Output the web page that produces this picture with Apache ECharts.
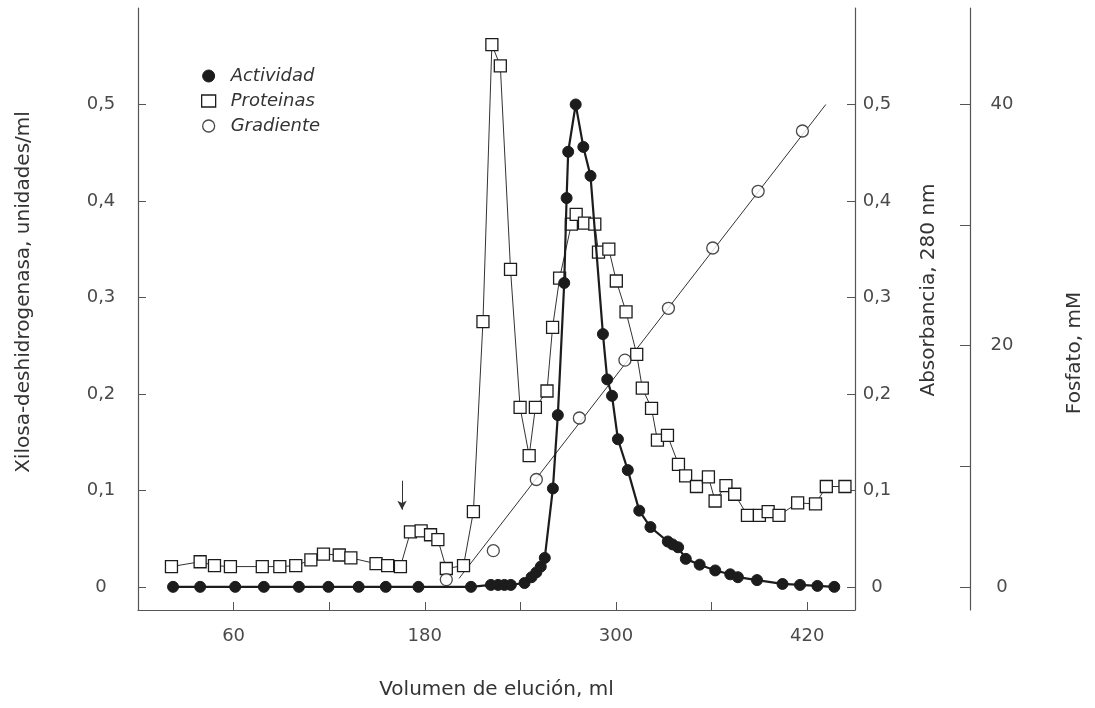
<!DOCTYPE html>
<html>
<head>
<meta charset="utf-8">
<script src="https://cdn.jsdelivr.net/npm/echarts@6/dist/echarts.min.js"></script>
<style>
  html, body { margin: 0; padding: 0; background: #ffffff; }
  #chart { width: 1095px; height: 708px; }
</style>
</head>
<body>
<div id="chart"></div>
<script>
// ---- Data ----
const actividadVol = [22,39,61,79,101,119.5,138.5,155.5,176,209,221.5,226,230,234,242.6,247,250,252.8,255.3,260.4,263.5,267.5,269,270,274.7,279.5,284,291.8,294.5,297.5,301.2,307.4,314.6,321.6,332.5,335.5,339,343.8,352.5,362.3,371.7,376.5,388.5,404.5,415.5,426.4,437];
const actividadVal = [0,0,0,0,0,0,0,0,0,0,0.002,0.002,0.002,0.002,0.004,0.01,0.015,0.021,0.03,0.102,0.178,0.315,0.403,0.451,0.5,0.456,0.426,0.262,0.215,0.198,0.153,0.121,0.079,0.062,0.047,0.044,0.041,0.029,0.023,0.017,0.013,0.01,0.007,0.003,0.002,0.001,0];

const proteinasVol = [21,39,48,58,78,89,99,108.5,116.4,126.3,133.6,149.4,156.7,164.7,171,177.7,183.6,188.2,193.5,204.3,210.5,216.5,222.1,227.4,233.8,239.8,245.5,249.4,256.7,260.2,264.6,272,275,280.2,286.7,289,295.5,300.2,306.3,313,316.5,322.3,326,332.3,339.2,343.7,350.5,358,362.2,369,374.5,382.5,390,395.5,402.3,414,425.2,432,443.7];
const proteinasVal = [0.021,0.026,0.022,0.021,0.021,0.021,0.022,0.028,0.034,0.033,0.030,0.024,0.022,0.021,0.057,0.058,0.054,0.049,0.019,0.022,0.078,0.275,0.562,0.540,0.329,0.186,0.136,0.186,0.203,0.269,0.320,0.376,0.386,0.377,0.376,0.347,0.350,0.317,0.285,0.241,0.206,0.185,0.152,0.157,0.127,0.115,0.104,0.114,0.089,0.105,0.096,0.074,0.074,0.078,0.074,0.087,0.086,0.104,0.104];

const gradienteVol = [193.5,223,250,277,305.6,332.9,360.7,389.2,417];
const gradienteMM  = [0.6,3.0,8.9,14.0,18.8,23.1,28.1,32.8,37.8];

const gradienteLineVol = [201.5,431.7];
const gradienteLineMM  = [0.7,40];

const arrowVol = 165.7;
const arrowFrom = 0.11;
const arrowTo = 0.08;

const xTickLabels = [60,180,300,420];

// ---- Helpers ----
const zip = (a, b) => a.map((v, i) => [v, b[i]]);
const commaFmt = v => {
  if (v < -1e-9 || v > 0.55) return '';
  if (Math.abs(v) < 1e-9) return '0';
  return v.toFixed(1).replace('.', ',');
};

const FONT = 'DejaVu Sans';
const ink = '#1c1c1c';
const axisCol = '#555';
const labelStyle = { color: '#4a4a4a', fontFamily: FONT, fontSize: 18 };
const nameStyle = { color: '#333', fontFamily: FONT, fontSize: 20 };

const chart = echarts.init(document.getElementById('chart'), null, { renderer: 'canvas' });

const option = {
  backgroundColor: '#ffffff',
  animation: false,
  grid: { left: 138, right: 240, top: 8, bottom: 98, containLabel: false },
  legend: {
    orient: 'vertical',
    left: 196,
    top: 62,
    itemWidth: 14,
    itemHeight: 12,
    itemGap: 7,
    textStyle: { fontFamily: FONT, fontStyle: 'italic', fontSize: 18, color: '#333', padding: [0, 0, 0, 10] },
    data: [
      { name: 'Actividad', icon: 'circle', itemStyle: { color: ink, borderColor: ink, borderWidth: 1 } },
      { name: 'Proteinas', icon: 'rect', itemStyle: { color: '#fff', borderColor: ink, borderWidth: 1.3 } },
      { name: 'Gradiente', icon: 'circle', itemStyle: { color: '#fff', borderColor: ink, borderWidth: 1.3 } }
    ]
  },
  xAxis: {
    type: 'value',
    min: 0,
    max: 450,
    interval: 60,
    name: 'Volumen de elución, ml',
    nameLocation: 'middle',
    nameGap: 70,
    nameTextStyle: nameStyle,
    axisLine: { show: true, onZero: false, lineStyle: { color: axisCol, width: 1.2 } },
    axisTick: { show: true, inside: true, length: 8, lineStyle: { color: axisCol } },
    axisLabel: Object.assign({ margin: 17, formatter: v => xTickLabels.includes(v) ? String(v) : '' }, labelStyle),
    splitLine: { show: false }
  },
  yAxis: [
    {
      type: 'value',
      position: 'left',
      min: -0.024,
      max: 0.6,
      splitNumber: 6,
      name: 'Xilosa-deshidrogenasa, unidades/ml',
      nameLocation: 'middle',
      nameRotate: 90,
      nameGap: 104,
      nameTextStyle: Object.assign({ padding: [0, 0, 0, 34] }, nameStyle),
      axisLine: { show: true, onZero: false, lineStyle: { color: axisCol, width: 1.2 } },
      axisTick: { show: true, inside: true, length: 8, lineStyle: { color: axisCol } },
      axisLabel: Object.assign({ margin: 37, align: 'center', formatter: commaFmt, showMinLabel: false, showMaxLabel: false }, labelStyle),
      splitLine: { show: false }
    },
    {
      type: 'value',
      position: 'right',
      min: -0.024,
      max: 0.6,
      splitNumber: 6,
      name: 'Absorbancia, 280 nm',
      nameLocation: 'middle',
      nameRotate: 90,
      nameGap: 64,
      nameTextStyle: Object.assign({ padding: [0, 0, 0, 38] }, nameStyle),
      axisLine: { show: true, onZero: false, lineStyle: { color: axisCol, width: 1.2 } },
      axisTick: { show: true, inside: true, length: 8, lineStyle: { color: axisCol } },
      axisLabel: Object.assign({ margin: 22, align: 'center', formatter: commaFmt, showMinLabel: false, showMaxLabel: false }, labelStyle),
      splitLine: { show: false }
    },
    {
      type: 'value',
      position: 'right',
      offset: 115,
      min: -1.92,
      max: 48,
      splitNumber: 5,
      name: 'Fosfato, mM',
      nameLocation: 'middle',
      nameRotate: 90,
      nameGap: 95,
      nameTextStyle: Object.assign({ padding: [0, 88, 0, 0] }, nameStyle),
      axisLine: { show: true, onZero: false, lineStyle: { color: axisCol, width: 1.2 } },
      axisTick: { show: true, inside: true, length: 10, lineStyle: { color: axisCol } },
      axisLabel: Object.assign({
        margin: 32, align: 'center', showMinLabel: false, showMaxLabel: false,
        formatter: v => (v >= 0 && v <= 40 && Math.round(v) % 20 === 0) ? String(Math.round(v)) : ''
      }, labelStyle),
      splitLine: { show: false }
    }
  ],
  series: [
    {
      name: 'Gradiente lineal',
      type: 'line',
      yAxisIndex: 2,
      data: zip(gradienteLineVol, gradienteLineMM),
      showSymbol: false,
      symbol: 'none',
      lineStyle: { color: '#333', width: 1 },
      silent: true,
      z: 1
    },
    {
      name: 'Proteinas',
      type: 'line',
      yAxisIndex: 1,
      data: zip(proteinasVol, proteinasVal),
      symbol: 'rect',
      symbolSize: 12,
      itemStyle: { color: '#fff', borderColor: ink, borderWidth: 1.3 },
      lineStyle: { color: '#333', width: 1 },
      z: 2
    },
    {
      name: 'Actividad',
      type: 'line',
      yAxisIndex: 0,
      data: zip(actividadVol, actividadVal),
      symbol: 'circle',
      symbolSize: 11,
      itemStyle: { color: ink, borderColor: ink, borderWidth: 1 },
      lineStyle: { color: ink, width: 2.2 },
      z: 3,
      markLine: {
        silent: true,
        symbol: ['none', 'arrow'],
        symbolSize: [7, 9],
        label: { show: false },
        lineStyle: { color: '#333', width: 1, type: 'solid' },
        data: [[ { coord: [arrowVol, arrowFrom] }, { coord: [arrowVol, arrowTo] } ]]
      }
    },
    {
      name: 'Gradiente',
      type: 'scatter',
      yAxisIndex: 2,
      data: zip(gradienteVol, gradienteMM),
      symbol: 'circle',
      symbolSize: 12,
      itemStyle: { color: '#fff', borderColor: ink, borderWidth: 1.3 },
      z: 4
    }
  ]
};

chart.setOption(option);
</script>
</body>
</html>
